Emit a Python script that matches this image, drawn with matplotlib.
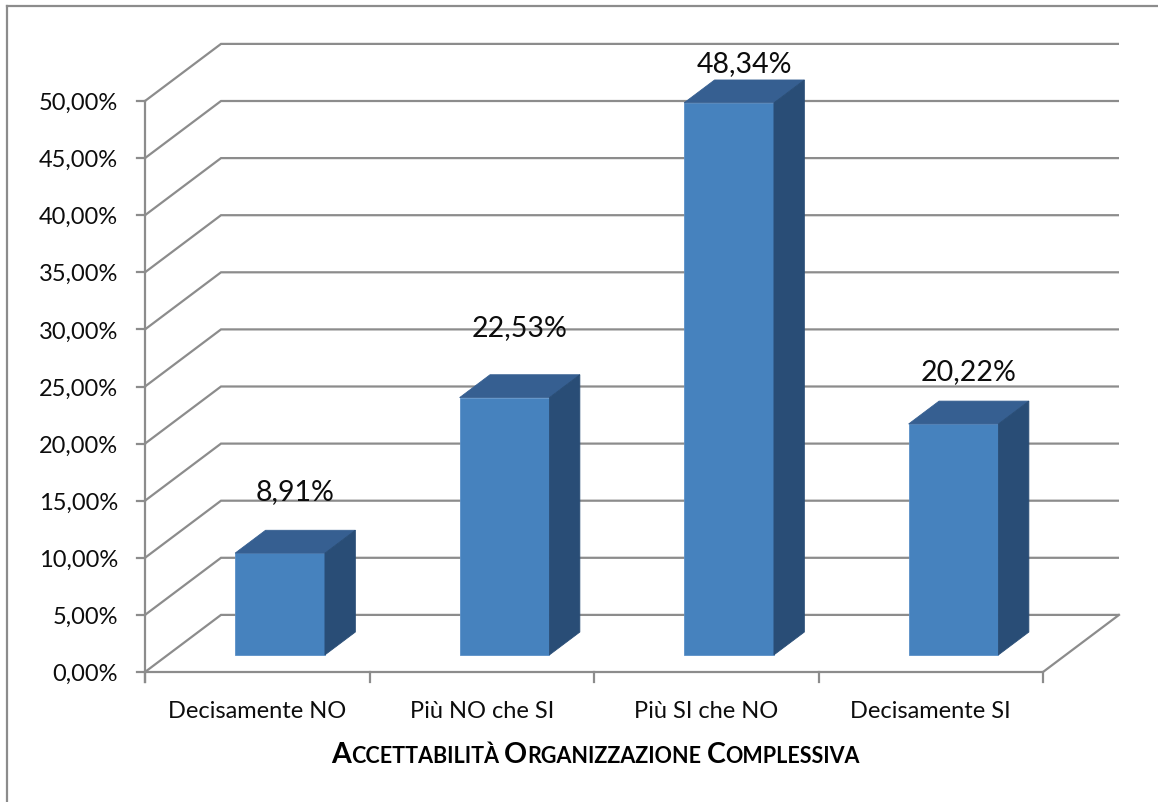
import matplotlib
matplotlib.use("Agg")
import matplotlib.pyplot as plt
from matplotlib.patches import Polygon
from matplotlib.lines import Line2D
from matplotlib.transforms import IdentityTransform

# ---------------- data ----------------
categories = ["Decisamente NO", "Più NO che SI", "Più SI che NO", "Decisamente SI"]
values = [8.91, 22.53, 48.34, 20.22]
value_labels = ["8,91%", "22,53%", "48,34%", "20,22%"]
y_ticks = [0, 5, 10, 15, 20, 25, 30, 35, 40, 45, 50]
y_tick_labels = ["0,00%", "5,00%", "10,00%", "15,00%", "20,00%", "25,00%",
                 "30,00%", "35,00%", "40,00%", "45,00%", "50,00%"]
title_words = ["Accettabilità", "Organizzazione", "Complessiva"]

# label vertical offsets above bar value (layout tweak, in % units)
label_dy = [6.24, 7.00, 4.29, 5.44]

# ---------------- layout ----------------
plt.rcParams["font.family"] = ["Lato", "DejaVu Sans"]
W, H = 1158, 803
X0PX, Y0PX = 145.0, 673.0      # pixel position of front origin
CATW, PCT = 224.5, 11.42        # px per category, px per percent
DX, DY = 76.0 / CATW, 5.0       # depth offset (data units)
GRID = "#8c8c8c"
LW = 1.6
FRONT, TOP, SIDE = "#4682be", "#365f91", "#294d76"
TXT = "#0d0d0d"

def px_x(p):
    return p / CATW

def px_y(p):
    return p / PCT

fig = plt.figure(figsize=(W / 100, H / 100), dpi=100)
ax = fig.add_axes([0, 0, 1, 1])
ax.set_xlim(-X0PX / CATW, (W - X0PX) / CATW)
ax.set_ylim((Y0PX - H) / PCT, Y0PX / PCT)
ax.axis("off")

n = len(categories)

# gridlines: left wall diagonal + back wall horizontal
for v in y_ticks:
    ax.plot([0, DX, n + DX], [v, v + DY, v + DY], color=GRID, lw=LW, zorder=1,
            solid_joinstyle="miter", solid_capstyle="butt")

# floor front + right edge
ax.plot([0, n, n + DX], [0, 0, DY], color=GRID, lw=LW, zorder=1,
        solid_joinstyle="miter")
# front vertical axis
ax.plot([0, 0], [-px_y(10), y_ticks[-1]], color=GRID, lw=LW, zorder=1)
# y tick marks and labels
for v, lab in zip(y_ticks, y_tick_labels):
    ax.plot([-px_x(8), 0], [v, v], color=GRID, lw=LW, zorder=1)
    ax.text(-px_x(27), v - px_y(8), lab, ha="right", va="baseline",
            fontsize=17, color=TXT)
# category ticks
for i in range(n + 1):
    ax.plot([i, i], [0, -px_y(10)], color=GRID, lw=LW, zorder=1)
# category labels
for i, c in enumerate(categories):
    ax.text(i + 0.5, -px_y(45), c, ha="center", va="baseline",
            fontsize=17, color=TXT)

# bars
f0, bd, bw = 0.3, 0.4, 0.4
for i, v in enumerate(values):
    xl = i + (1 - bw) / 2 + f0 * DX
    xr = xl + bw
    yb = f0 * DY
    yt = v + f0 * DY
    ddx, ddy = bd * DX, bd * DY
    ax.add_patch(Polygon([(xl, yb), (xr, yb), (xr, yt), (xl, yt)], closed=True,
                         facecolor=FRONT, edgecolor="#5a90c8", lw=0.6, zorder=3))
    ax.add_patch(Polygon([(xl, yt), (xr, yt), (xr + ddx, yt + ddy), (xl + ddx, yt + ddy)],
                         closed=True, facecolor=TOP, edgecolor=TOP, lw=0.6, zorder=3))
    ax.add_patch(Polygon([(xr, yb), (xr + ddx, yb + ddy), (xr + ddx, yt + ddy), (xr, yt)],
                         closed=True, facecolor=SIDE, edgecolor=SIDE, lw=0.6, zorder=3))
    ax.text((xl + xr) / 2 + ddx / 2, v + label_dy[i], value_labels[i],
            ha="center", va="baseline", fontsize=20.5, color=TXT, zorder=4)

# chart border (cropped at right and bottom)
fig.add_artist(Line2D([7 / W, 7 / W], [0, 1 - 7 / H], transform=fig.transFigure,
                      color=GRID, lw=1.6))
fig.add_artist(Line2D([7 / W, 1], [1 - 7 / H, 1 - 7 / H], transform=fig.transFigure,
                      color=GRID, lw=1.6))

# axis title in small caps
renderer = fig.canvas.get_renderer()
BIG, SMALL = 20.5, 15.5
pieces = []
for k, w in enumerate(title_words):
    pieces.append((w[0].upper(), BIG))
    pieces.append((w[1:].upper(), SMALL))
    if k < len(title_words) - 1:
        pieces.append((" ", SMALL))

def text_width(s, size):
    t = fig.text(0, 0, s, fontsize=size, fontweight="bold", transform=IdentityTransform())
    wdt = t.get_window_extent(renderer).width
    t.remove()
    return wdt

widths = []
for s, size in pieces:
    if s == " ":
        widths.append(text_width("I I", size) - text_width("II", size))
    else:
        widths.append(text_width(s, size))
total = sum(widths)
x = (334 + 857) / 2 - total / 2
base = H - 763
for (s, size), wdt in zip(pieces, widths):
    if s != " ":
        fig.text(x, base, s, fontsize=size, fontweight="bold", color="#000000",
                 ha="left", va="baseline", transform=IdentityTransform())
    x += wdt

fig.savefig("out.png", dpi=100)
